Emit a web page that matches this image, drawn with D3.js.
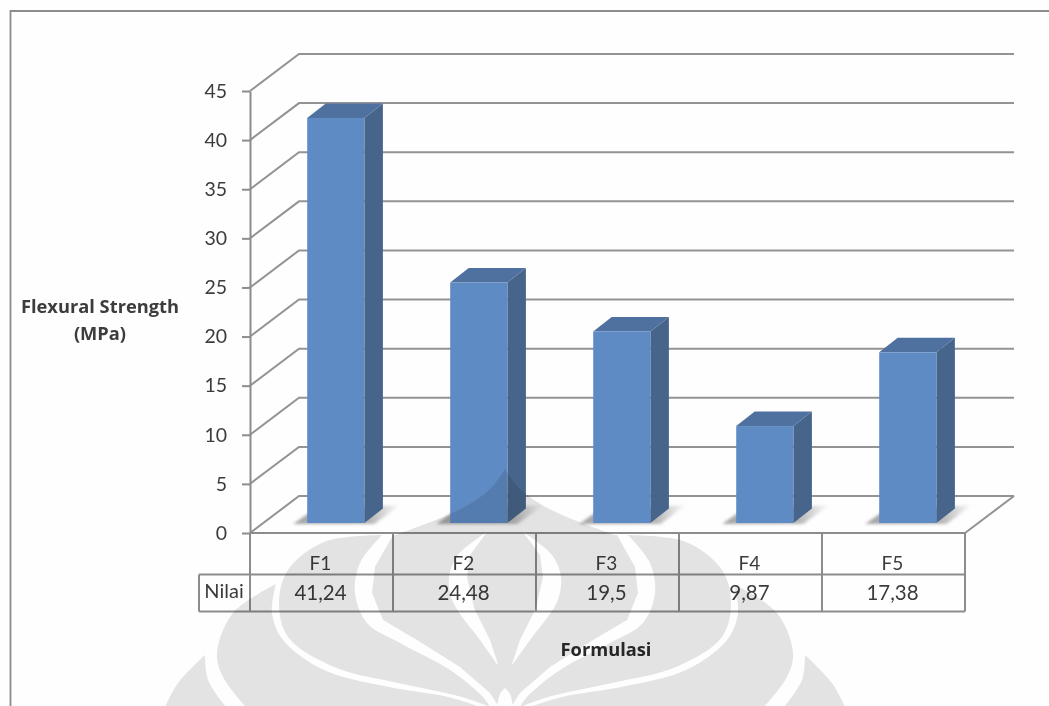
<!DOCTYPE html>
<html>
<head>
<meta charset="utf-8">
<script src="https://cdn.jsdelivr.net/npm/d3@7"></script>
<style>
  html, body { margin: 0; padding: 0; background: #fefefe; }
  svg { display: block; }
  text { font-family: Lato, "Open Sans", sans-serif; fill: #3c3c3c; }
</style>
</head>
<body>
<svg id="chart" width="1049" height="706"></svg>
<script>
// Flexural strength per formulation
const categories = ["F1", "F2", "F3", "F4", "F5"];
const values = [41.24, 24.48, 19.5, 9.87, 17.38];
const valueLabels = ["41,24", "24,48", "19,5", "9,87", "17,38"];
const yTicks = [0, 5, 10, 15, 20, 25, 30, 35, 40, 45];
const yTitle = ["Flexural Strength", "(MPa)"];
const xTitle = "Formulasi";
const rowLabel = "Nilai";

const W = 1049, H = 706;
const GRID = "#939393", EDGE = "#8c8c8c";
const FRONT = "#5f8bc4", SIDE = "#47648b", TOP = "#4f719f";

// Oblique offset of the back wall, and of each bar's depth
const wallDx = 49, wallDy = 37;
const barDx = 18.5, barDy = 14.5, barLift = 10;

const svg = d3.select("#chart");
const x = d3.scaleBand().domain(categories).range([250, 965]);
const y = d3.scaleLinear().domain([0, 45]).range([533, 91]);
const rowTop = 533, rowMid = 574.5, rowBottom = 611.5, rowHeadLeft = 199;

const defs = svg.append("defs");
defs.append("filter").attr("id", "soft")
  .attr("x", "-30%").attr("y", "-60%").attr("width", "160%").attr("height", "220%")
  .append("feGaussianBlur").attr("stdDeviation", 1.8);
const fade = defs.append("linearGradient").attr("id", "shadowFade");
fade.append("stop").attr("offset", 0).attr("stop-color", "#808080").attr("stop-opacity", 0.7);
fade.append("stop").attr("offset", 0.7).attr("stop-color", "#808080").attr("stop-opacity", 0.6);
fade.append("stop").attr("offset", 1).attr("stop-color", "#808080").attr("stop-opacity", 0);

// Page frame: left and top rules only
svg.append("path")
  .attr("d", d3.line()([[10.5, H], [10.5, 11], [W, 11]]))
  .attr("fill", "none").attr("stroke", EDGE).attr("stroke-width", 1.8);

// Back wall gridlines with their diagonal returns to the axis
const grid = svg.append("g").attr("fill", "none").attr("stroke", GRID).attr("stroke-width", 2);
grid.selectAll("path").data(yTicks).join("path")
  .attr("d", t => d3.line()([
    [x.range()[0], y(t)],
    [x.range()[0] + wallDx, y(t) - wallDy],
    [x.range()[1] + wallDx, y(t) - wallDy]
  ]));
// Right edge of the floor
grid.append("path").attr("d", d3.line()([
  [x.range()[1], y(0)], [x.range()[1] + wallDx, y(0) - wallDy]
]));

// Floor shadows under the bars
const band = x.bandwidth();
const barLeft = c => x(c) + band * 0.4;
const barW = band * 0.4;
const baseY = y(0) - barLift;
svg.append("g").selectAll("path").data(categories).join("path")
  .attr("filter", "url(#soft)")
  .attr("fill", "url(#shadowFade)")
  .attr("d", c => d3.line()([
    [barLeft(c) - 14, baseY + 1],
    [barLeft(c) + 6, baseY - 13],
    [barLeft(c) + barW + 36, baseY - 18],
    [barLeft(c) + barW + 10, baseY + 1]
  ]));

// Bars: side, top, then front face
const bars = svg.append("g").selectAll("g").data(categories.map((c, i) => ({ c, v: values[i] }))).join("g");
const barTop = d => baseY - (y(0) - y(d.v));
bars.append("path").attr("fill", SIDE).attr("d", d => d3.line()([
  [barLeft(d.c) + barW, baseY],
  [barLeft(d.c) + barW, barTop(d)],
  [barLeft(d.c) + barW + barDx, barTop(d) - barDy],
  [barLeft(d.c) + barW + barDx, baseY - barDy]
]));
bars.append("path").attr("fill", TOP).attr("d", d => d3.line()([
  [barLeft(d.c), barTop(d)],
  [barLeft(d.c) + barDx, barTop(d) - barDy],
  [barLeft(d.c) + barW + barDx, barTop(d) - barDy],
  [barLeft(d.c) + barW, barTop(d)]
]));
bars.append("rect").attr("fill", FRONT)
  .attr("x", d => barLeft(d.c)).attr("width", barW)
  .attr("y", barTop).attr("height", d => baseY - barTop(d));

// Value axis
const axis = svg.append("g").attr("transform", `translate(${x.range()[0]},0)`)
  .call(d3.axisLeft(y).tickValues(yTicks).tickSize(8).tickSizeOuter(0).tickPadding(15));
axis.selectAll("path, line").attr("stroke", EDGE).attr("stroke-width", 2);
axis.selectAll("text").style("font-family", "Lato, sans-serif").style("font-size", "19.5px").attr("fill", "#3c3c3c");

// Data table under the plot
const table = svg.append("g").attr("stroke", EDGE).attr("stroke-width", 2).attr("fill", "none");
const xEnd = x.range()[1], xStart = x.range()[0];
table.append("path").attr("d", d3.line()([[xStart, rowTop], [xEnd, rowTop]]));
table.append("path").attr("d", d3.line()([[rowHeadLeft, rowMid], [xEnd, rowMid]]));
table.append("path").attr("d", d3.line()([[rowHeadLeft, rowBottom], [xEnd, rowBottom]]));
table.append("path").attr("d", d3.line()([[rowHeadLeft, rowMid], [rowHeadLeft, rowBottom]]));
table.selectAll(".col").data(categories.concat("end")).join("path").attr("class", "col")
  .attr("d", c => {
    const cx = c === "end" ? xEnd : x(c);
    return d3.line()([[cx, rowTop], [cx, rowBottom]]);
  });

svg.append("g").selectAll("text").data(categories).join("text")
  .attr("x", c => x(c) + band / 2 - 1).attr("y", 569.5)
  .attr("text-anchor", "middle").attr("font-size", 19).text(c => c);
svg.append("g").selectAll("text").data(valueLabels).join("text")
  .attr("x", (d, i) => x(categories[i]) + band / 2 - 1).attr("y", 600)
  .attr("text-anchor", "middle").attr("font-size", 20.5).text(d => d);
svg.append("text").attr("x", 224).attr("y", 598)
  .attr("text-anchor", "middle").attr("font-size", 20).text(rowLabel);

// Axis titles
svg.append("g").selectAll("text").data(yTitle).join("text")
  .attr("x", 100).attr("y", (d, i) => 313 + i * 27)
  .attr("text-anchor", "middle").attr("font-size", 18.3).attr("font-weight", 700)
  .style("font-family", "'Open Sans', sans-serif").text(d => d);
svg.append("text").attr("x", 606).attr("y", 656)
  .attr("text-anchor", "middle").attr("font-size", 18.3).attr("font-weight", 700)
  .style("font-family", "'Open Sans', sans-serif")
  .style("fill", "#2a2a2a").text(xTitle);

// Faint crest printed over the whole page; each half is drawn and mirrored about its centre
const crestAxis = 505;
const smooth = d3.line().curve(d3.curveCatmullRom.alpha(0.5));
const crestGray = "#e4e4e4", crestWhite = "#ffffff";

const petalD = [[205, 655], [178, 683], [165, 707]];
const petalDInner = [[205, 655], [208, 680], [226, 707]];
const petalC = [[276, 584], [233, 613], [217, 653], [223, 677], [246, 707]];
const petalCInner = [[276, 584], [272, 613], [283, 640], [324, 670], [389, 687], [448, 697], [480, 707]];
const petalB = [[382, 535], [324, 542], [288, 570], [279, 603], [288, 637], [334, 667], [398, 683], [462, 697], [490, 707]];
const bandOuter = [[382, 535], [360, 563], [355, 593], [367, 623], [400, 643], [450, 670], [483, 697], [490, 707]];
const bandInner = [[393, 535], [375, 567], [372, 593], [383, 620], [417, 640], [460, 667], [490, 693], [499, 707]];
const apexEdge = [[393, 536], [420, 526], [450, 514], [473, 502], [492, 487], [505, 469]];
const strandOuter = [[487, 532], [458, 555], [449, 577], [453, 602], [480, 640], [497, 664]];
const strandInner = [[487, 532], [470, 555], [467, 577], [474, 608], [490, 640], [498, 664]];
const flame = [[505, 688], [500, 694], [497, 707]];

const closed = (edge, tail) => smooth(edge) + tail.map(p => "L" + p.join(",")).join("") + "Z";
const crestLayers = [
  [crestGray, closed(petalD, [[crestAxis, 707], [crestAxis, 655]])],
  [crestWhite, closed(petalDInner, [[crestAxis, 707], [crestAxis, 584], [276, 584]])],
  [crestGray, closed(petalC, [[crestAxis, 707], [crestAxis, 584]])],
  [crestWhite, closed(petalCInner, [[crestAxis, 707], [crestAxis, 535], [382, 535]])],
  [crestGray, closed(petalB, [[crestAxis, 707], [crestAxis, 535]])],
  [crestWhite, closed(bandOuter, bandInner.slice().reverse())],
  [crestGray, closed(apexEdge, [[crestAxis, 540], [393, 540]])],
  [crestWhite, closed(strandOuter, strandInner.slice().reverse())],
  [crestWhite, closed(flame, [[crestAxis, 707]])]
];

const crest = svg.append("g").style("mix-blend-mode", "multiply").style("isolation", "isolate");
["", `translate(${2 * crestAxis},0) scale(-1,1)`].forEach(tf => {
  const half = crest.append("g").attr("transform", tf);
  half.selectAll("path").data(crestLayers).join("path")
    .attr("fill", d => d[0]).attr("d", d => d[1]);
});
</script>
</body>
</html>
